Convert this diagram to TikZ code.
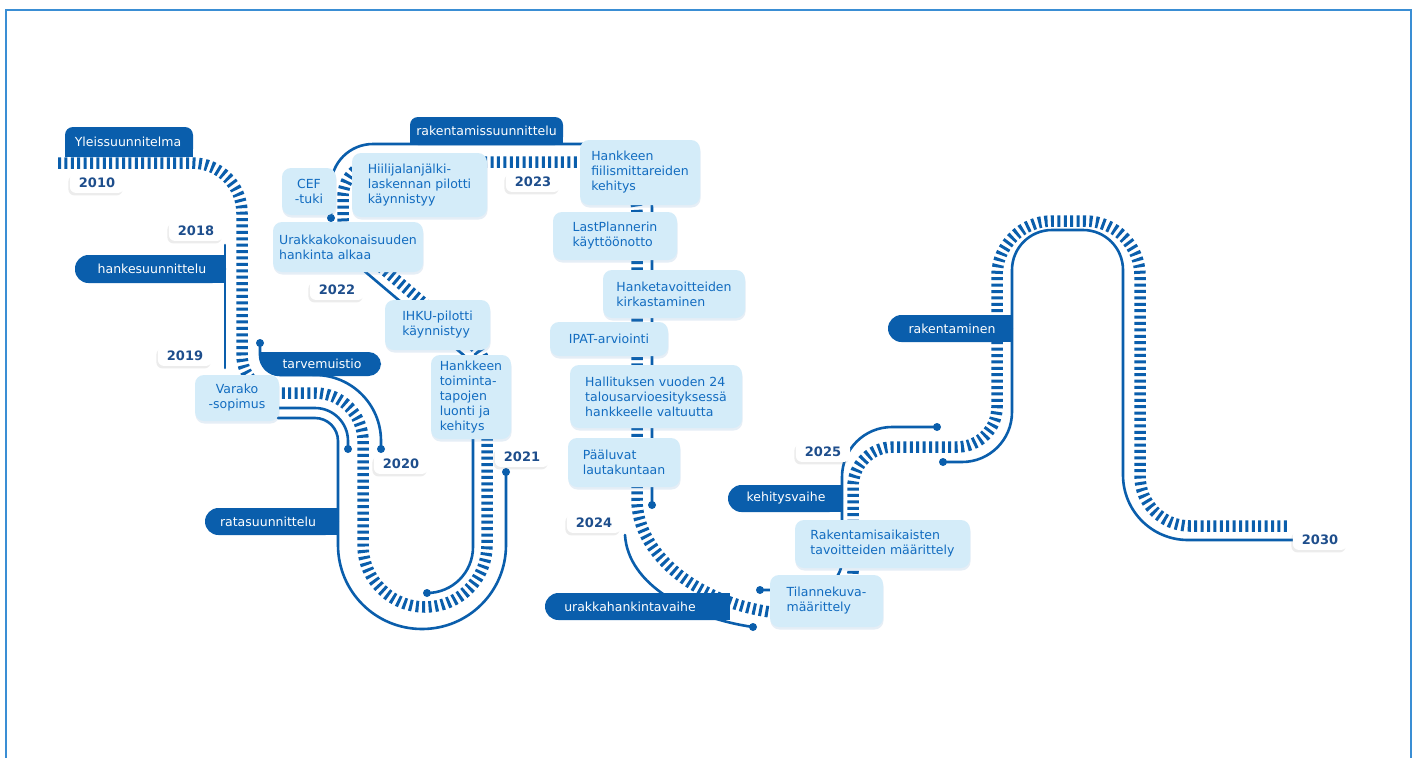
\documentclass[tikz,border=0pt]{standalone}
\usepackage{fontspec}
\setmainfont{DejaVu Sans}
\usetikzlibrary{shadows}
\definecolor{dblue}{RGB}{10,94,172}
\definecolor{lfill}{RGB}{212,236,249}
\definecolor{ltext}{RGB}{18,108,192}
\definecolor{ytext}{RGB}{30,78,140}
\definecolor{framec}{RGB}{58,142,212}
\begin{document}
\begin{tikzpicture}[x=1pt,y=-1pt,
  ties/.style={draw=dblue, line width=11.5pt, dash pattern=on 3pt off 3.4pt},
  rail/.style={draw=dblue, line width=2.6pt, line cap=round},
  dot/.style={circle, fill=dblue, inner sep=0pt, minimum size=8pt},
  phase/.style={fill=dblue},
  ptext/.style={text=white, font=\fontsize{12.5}{15}\selectfont, inner sep=0pt},
  lbox/.style={fill=lfill, rounded corners=9pt, text=ltext, font=\fontsize{12.5}{15}\selectfont, align=left, inner sep=0pt,
    drop shadow={shadow xshift=0.5pt, shadow yshift=-2.5pt, opacity=0.15, fill=dblue!70}},
  year/.style={fill=white, rounded corners=6pt, text=ytext, font=\fontsize{13}{15}\selectfont\bfseries, inner xsep=9pt, inner ysep=5pt,
    drop shadow={shadow xshift=-1.5pt, shadow yshift=-2.5pt, opacity=0.15, fill=gray}},
]
\useasboundingbox (0,0) rectangle (1417,758);
\fill[white] (0,0) rectangle (1417,758);
\draw[framec, line width=2.2pt] (6,10) rectangle (1411,800);

% track ties
\draw[ties] (58,163) -- (192,163) to[out=0,in=90] (242,213) -- (242,355) to[out=-90,in=180] (280,393)
  -- (315,393) to[out=0,in=90] (363,441) -- (363,545) to[out=-90,in=180] (425,607) to[out=0,in=-90] (487,545)
  -- (487,376) to[out=90,in=-40.4] (472.8,345) -- (355.3,245.1) to[out=139.6,in=-90] (343,218.4)
  -- (343,197) to[out=90,in=180] (378,162) -- (587,162) to[out=0,in=90] (637,212)
  -- (637,500) .. controls (637,550) and (690,600) .. (770,612) -- (813,612) to[out=0,in=-90] (853,572)
  -- (853,487) to[out=90,in=180] (893,447) -- (957,447) to[out=0,in=-90] (997,407)
  -- (997,276) to[out=90,in=180] (1052,221) -- (1085,221) to[out=0,in=90] (1140,276)
  -- (1140,476) to[out=-90,in=180] (1190,526) -- (1290,526);

% rails
\draw[rail] (225,245) -- (225,368);
\draw[rail] (260,343) -- (260,355) to[out=-90,in=180] (280,375) -- (315,375) to[out=0,in=90] (381,441) -- (381,447);
\draw[rail] (278,408) -- (315,408) to[out=0,in=90] (348,441) -- (348,447);
\draw[rail] (278,418) -- (315,418) to[out=0,in=90] (338,441) -- (338,545) to[out=-90,in=180] (422,629) to[out=0,in=-90] (506,545) -- (506,472);
\draw[rail] (427,593) to[out=0,in=-90] (473,547) -- (473,375.3) to[out=90,in=-40.4] (463.8,355.2) -- (362,269);
\draw[rail] (331,218) -- (331,186) to[out=90,in=180] (373,144) -- (587,144) to[out=0,in=90] (652,209) -- (652,505);
\draw[rail] (625,535) .. controls (628,585) and (690,618) .. (753,627);
\draw[rail] (760,590) -- (812,590) to[out=0,in=-90] (842,560) -- (842,477) to[out=90,in=180] (892,427) -- (937,427);
\draw[rail] (943,462) -- (962,462) to[out=0,in=-90] (1012,412) -- (1012,270) to[out=90,in=180] (1052,230) -- (1083,230) to[out=0,in=90] (1123,270) -- (1123,475) to[out=-90,in=180] (1188,540) -- (1295,540);

% dots
\node[dot] (d1) at (260,343) {};
\node[dot] (d2) at (381,449) {};
\node[dot] (d3) at (348,449) {};
\node[dot] (d4) at (506,472) {};
\node[dot] (d5) at (427,593) {};
\node[dot] (d6) at (331,218) {};
\node[dot] (d7) at (652,505) {};
\node[dot] (d8) at (753,627) {};
\node[dot] (d9) at (760,590) {};
\node[dot] (d10) at (937,427) {};
\node[dot] (d11) at (943,462) {};

% phase boxes
\fill[phase, rounded corners=8pt] (65,127) rectangle (193,157);
\fill[phase] (65,142) rectangle (193,157);
\node[ptext] (p1) at (128,142) {Yleissuunnitelma};
\fill[phase, rounded corners=8pt] (410,117) rectangle (563,145);
\fill[phase] (410,131) rectangle (563,145);
\node[ptext] (p2) at (486.5,131) {rakentamissuunnittelu};
\fill[phase, rounded corners=13.5pt] (75,255) rectangle (226,283);
\fill[phase] (150,255) rectangle (226,283);
\node[ptext] (p3) at (152,269) {hankesuunnittelu};
\fill[phase, rounded corners=12.5pt] (300,352) rectangle (381,376);
\fill[phase] (260,352) -- (320,352) -- (320,376) -- (280,376) to[out=180,in=-90] (260,357) -- cycle;
\node[ptext] (p4) at (322,364) {tarvemuistio};
\fill[phase, rounded corners=13.5pt] (205,508) rectangle (339,535);
\fill[phase] (270,508) rectangle (339,535);
\node[ptext] (p5) at (268,521.5) {ratasuunnittelu};
\fill[phase, rounded corners=13.5pt] (545,593) rectangle (730,620);
\fill[phase] (640,593) rectangle (730,620);
\node[ptext] (p6) at (630,606.5) {urakkahankintavaihe};
\fill[phase, rounded corners=13.5pt] (728,485) rectangle (843,512);
\fill[phase] (780,485) rectangle (843,512);
\node[ptext] (p7) at (786,498.5) {kehitysvaihe};
\fill[phase, rounded corners=13.5pt] (888,315) rectangle (1013,342);
\fill[phase] (950,315) rectangle (1013,342);
\node[ptext] (p8) at (952,328.5) {rakentaminen};

% light boxes
\node[lbox, minimum width=54, minimum height=47, align=center] (cef) at (309,191.5) {CEF\\-tuki};
\node[lbox, minimum width=135, minimum height=64] (hiili) at (419.5,185) {Hiilijalanjälki-\\laskennan pilotti\\käynnistyy};
\node[lbox, minimum width=150, minimum height=50] (urakka) at (348,247) {Urakkakokonaisuuden\\hankinta alkaa};
\node[lbox, minimum width=105, minimum height=50] (ihku) at (437.5,325) {IHKU-pilotti\\käynnistyy};
\node[lbox, minimum width=80, minimum height=84] (toim) at (471,397) {Hankkeen\\toiminta-\\tapojen\\luonti ja\\kehitys};
\node[lbox, minimum width=84, minimum height=46, align=center] (varako) at (237,398) {Varako\\-sopimus};
\node[lbox, minimum width=120, minimum height=65] (fiilis) at (640,172.5) {Hankkeen\\fiilismittareiden\\kehitys};
\node[lbox, minimum width=124, minimum height=48] (lastp) at (615,236) {LastPlannerin\\käyttöönotto};
\node[lbox, minimum width=142, minimum height=48] (hanke) at (674,294) {Hanketavoitteiden\\kirkastaminen};
\node[lbox, minimum width=118, minimum height=34] (ipat) at (609,339) {IPAT-arviointi};
\node[lbox, minimum width=172, minimum height=63] (hall) at (656,396.5) {Hallituksen vuoden 24\\talousarvioesityksessä\\hankkeelle valtuutta};
\node[lbox, minimum width=112, minimum height=49] (paal) at (624,462.5) {Pääluvat\\lautakuntaan};
\node[lbox, minimum width=175, minimum height=48] (rakaik) at (882.5,544) {Rakentamisaikaisten\\tavoitteiden määrittely};
\node[lbox, minimum width=113, minimum height=52] (tilanne) at (826.5,601) {Tilannekuva-\\määrittely};

% year labels
\node[year] (y2010) at (97,183) {2010};
\node[year] (y2018) at (196,231) {2018};
\node[year] (y2019) at (185,356) {2019};
\node[year] (y2020) at (401,464) {2020};
\node[year] (y2021) at (522,457) {2021};
\node[year] (y2022) at (337,290) {2022};
\node[year] (y2023) at (533,182) {2023};
\node[year] (y2024) at (594,523) {2024};
\node[year] (y2025) at (823,452) {2025};
\node[year] (y2030) at (1320,540) {2030};
\end{tikzpicture}
\end{document}
